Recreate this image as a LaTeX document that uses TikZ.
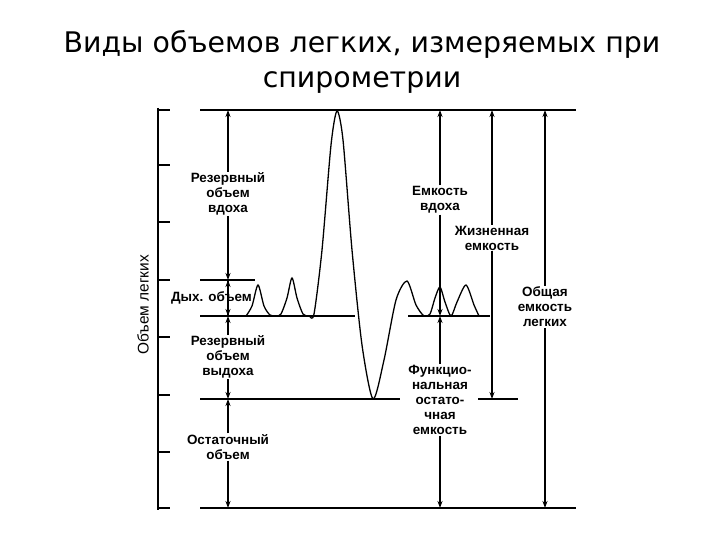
\documentclass[tikz,border=0pt]{standalone}
\usepackage{fontspec}
\setmainfont{Liberation Sans}
\newfontfamily\titlefont{DejaVu Sans}
\usetikzlibrary{arrows.meta}
\begin{document}
\begin{tikzpicture}[x=1bp,y=-1bp,
  lbl/.style={font=\bfseries\fontsize{13.5}{15}\selectfont,align=center,inner sep=1pt},
  dim/.style={line width=1.2pt,-{Stealth[length=7pt,width=5pt]}},
  ln/.style={line width=1.5pt},
  tick/.style={line width=1.2pt}]
\useasboundingbox (0,0) rectangle (720,540);
% title
\node[font=\titlefont\fontsize{28.5}{35}\selectfont,align=center] (title) at (362,62) {Виды объемов легких, измеряемых при\\спирометрии};
% axis
\draw[tick] (158,108) -- (158,510);
\foreach \yy in {110,165,222,280,337,395,452,508} \draw[tick] (158,\yy) -- (170,\yy);
\node[lbl,font=\fontsize{15.5}{17}\selectfont,rotate=90] (ylab) at (143,305) {Объем легких};
% horizontal levels
\draw[ln] (200,110) -- (576,110);
\draw[ln] (200,508) -- (576,508);
\draw[line width=1.1pt] (200,280) -- (255,280);
\draw[line width=1.1pt] (200,316) -- (355,316);
\draw[line width=1.1pt] (408,316) -- (490,316);
\draw[line width=1.1pt] (200,399) -- (400,399);
\draw[line width=1.1pt] (478,399) -- (518,399);
% curve
\draw[line width=1.3pt] plot[smooth,tension=0.45] coordinates {
(246,316)(252,306)(258,285)(264,306)(270,315)(276,316)(281,314)(287,298)(292,278)(297,298)(303,314)(309,316)(314,314)
(322,250)(331,145)(337,111)(343,140)(352,250)(362,345)(373,399)(384,360)(396,300)(407,281)(416,305)(424,316)(430,314)
(435,298)(440,287)(445,302)(451,316)(457,302)(466,285)(474,305)(479,316)};
% left column
\node[lbl] (irv) at (228,194) {Резервный\\объем\\вдоха};
\coordinate (a1) at (228,110); \coordinate (a2) at (228,280);
\coordinate (a3) at (228,316); \coordinate (a4) at (228,399); \coordinate (a5) at (228,508);
\draw[dim] (irv) -- (a1); \draw[dim] (irv) -- (a2);
\node[lbl,anchor=east] (tv) at (253,298) {Дых. объем};
\draw[line width=1.1pt] (a2) -- (a3);
\draw[dim] (228,292) -- (a2); \draw[dim] (228,305) -- (a3);
\node[lbl] (erv) at (228,357) {Резервный\\объем\\выдоха};
\draw[dim] (erv) -- (a3); \draw[dim] (erv) -- (a4);
\node[lbl] (rv) at (228,447) {Остаточный\\объем};
\draw[dim] (rv) -- (a4); \draw[dim] (rv) -- (a5);
% inspiratory capacity
\node[lbl] (ic) at (440,200) {Емкость\\вдоха};
\coordinate (b1) at (440,110); \coordinate (b2) at (440,316); \coordinate (b3) at (440,508);
\draw[dim] (ic) -- (b1); \draw[dim] (ic) -- (b2);
\node[lbl] (frc) at (440,400) {Функцио-\\нальная\\остато-\\чная\\емкость};
\draw[dim] (frc) -- (b2); \draw[dim] (frc) -- (b3);
% vital capacity
\node[lbl] (vc) at (492,238) {Жизненная\\емкость};
\coordinate (c1) at (492,110); \coordinate (c2) at (492,399);
\draw[dim] (vc) -- (c1); \draw[dim] (vc) -- (c2);
% total lung capacity
\node[lbl] (tlc) at (545,307) {Общая\\емкость\\легких};
\coordinate (d1) at (545,110); \coordinate (d2) at (545,508);
\draw[dim] (tlc) -- (d1); \draw[dim] (tlc) -- (d2);
\end{tikzpicture}
\end{document}
